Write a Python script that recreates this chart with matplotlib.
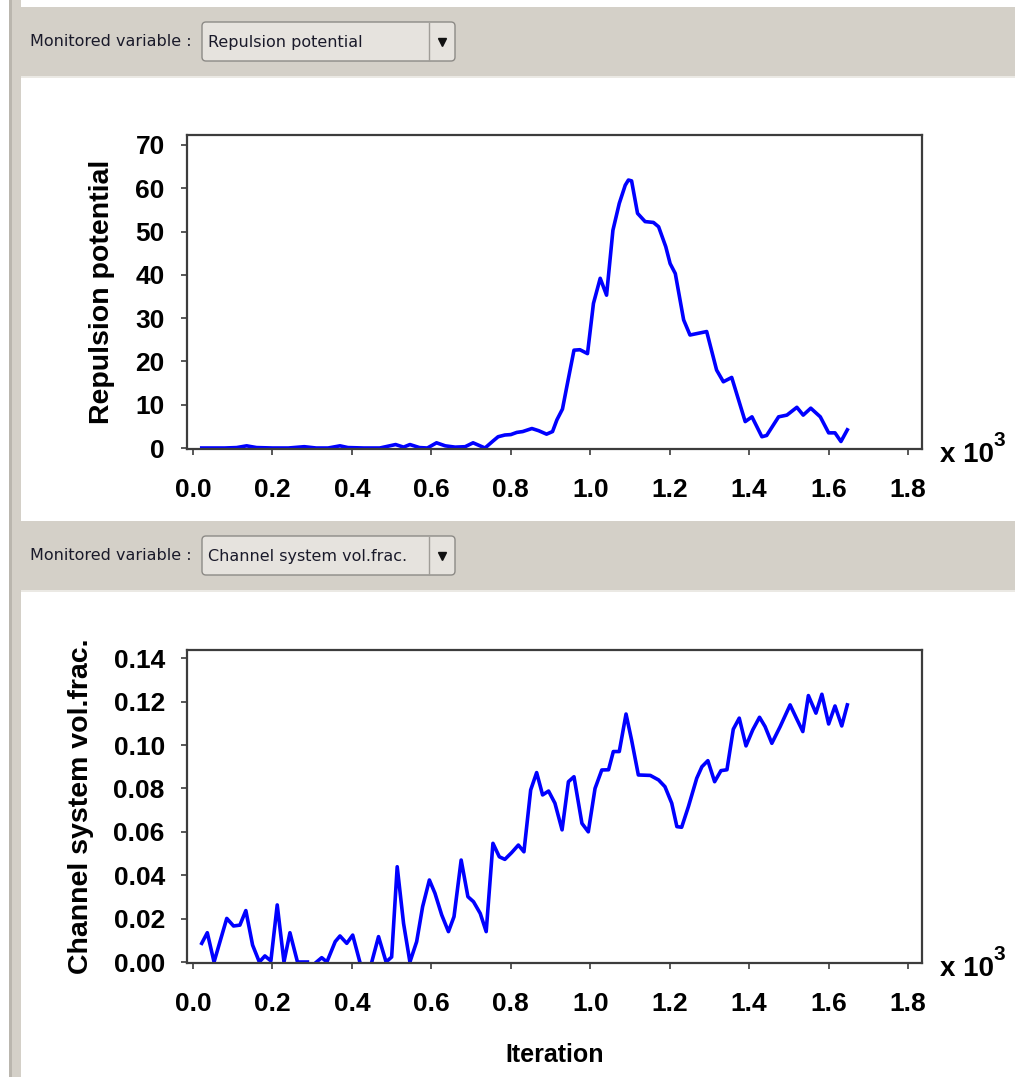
import numpy as np
import matplotlib.pyplot as plt
from matplotlib.patches import Rectangle, FancyBboxPatch

nan = np.nan

# repulsion potential vs iteration (x 10^3)
rep_iter = [0.022, 0.05, 0.08, 0.11, 0.135, 0.16, 0.20, 0.24, 0.28, 0.31,
            0.34, 0.37, 0.39, 0.43, 0.47, 0.51, 0.53, 0.546, 0.57, 0.59,
            0.613, 0.635, 0.66, 0.685, 0.705, 0.72, 0.735, 0.755, 0.768, 0.785,
            0.80, 0.815, 0.83, 0.853, 0.87, 0.89, 0.905, 0.916, 0.93, 0.941,
            0.959, 0.974, 0.993, 1.008, 1.025, 1.041, 1.057, 1.073, 1.088, 1.096,
            1.104, 1.119, 1.138, 1.159, 1.172, 1.19, 1.201, 1.214, 1.235, 1.251,
            1.293, 1.318, 1.335, 1.356, 1.39, 1.407, 1.432, 1.444, 1.474, 1.495,
            1.520, 1.536, 1.555, 1.579, 1.600, 1.616, 1.631, 1.647]
rep_val = [0.0, 0.0, 0.0, 0.1, 0.5, 0.1, 0.0, 0.0, 0.3, 0.0,
           0.0, 0.5, 0.1, 0.0, 0.0, 0.8, 0.2, 0.8, 0.1, 0.0,
           1.2, 0.5, 0.2, 0.3, 1.2, 0.6, 0.0, 1.6, 2.6, 3.0,
           3.1, 3.6, 3.8, 4.5, 4.0, 3.2, 3.8, 6.5, 9.0, 14.2,
           22.6, 22.7, 21.8, 33.4, 39.2, 35.3, 50.3, 56.5, 60.7, 61.9,
           61.7, 54.2, 52.3, 52.1, 51.1, 46.5, 42.6, 40.3, 29.6, 26.1,
           26.9, 18.0, 15.3, 16.3, 6.1, 7.2, 2.6, 2.9, 7.2, 7.6,
           9.4, 7.6, 9.2, 7.2, 3.5, 3.5, 1.5, 4.2]

# channel system volume fraction vs iteration (x 10^3), nan = no value
chan_iter = [0.022, 0.036, 0.053, 0.085, 0.102, 0.118, 0.133, 0.150, 0.167, 0.181,
             0.196, 0.212, 0.229, 0.244, 0.263, 0.288, 0.30, 0.311, 0.324, 0.337,
             0.358, 0.370, 0.387, 0.402, 0.420, 0.435, 0.450, 0.467, 0.486, 0.500,
             0.514, 0.530, 0.546, 0.563, 0.578, 0.595, 0.609, 0.626, 0.643, 0.657,
             0.675, 0.692, 0.706, 0.723, 0.738, 0.755, 0.771, 0.785, 0.802, 0.819,
             0.833, 0.850, 0.865, 0.880, 0.895, 0.911, 0.929, 0.945, 0.959, 0.979,
             0.995, 1.012, 1.029, 1.046, 1.058, 1.073, 1.090, 1.104, 1.121, 1.151,
             1.172, 1.188, 1.205, 1.218, 1.230, 1.247, 1.268, 1.281, 1.296, 1.313,
             1.329, 1.344, 1.360, 1.375, 1.392, 1.409, 1.426, 1.440, 1.457, 1.478,
             1.503, 1.520, 1.535, 1.549, 1.568, 1.583, 1.600, 1.616, 1.633, 1.647]
chan_val = [0.0086, 0.0135, 0.0, 0.0201, 0.0166, 0.0170, 0.0237, 0.0078, 0.0, 0.0028,
            0.0005, 0.0263, 0.0, 0.0135, 0.0, 0.0, nan, 0.0, 0.0020, 0.0,
            0.0094, 0.0120, 0.0086, 0.0124, 0.0, nan, 0.0, 0.0117, 0.0, 0.0023,
            0.0439, 0.0178, 0.0, 0.0094, 0.0255, 0.0378, 0.0317, 0.0217, 0.0140, 0.0209,
            0.0470, 0.0301, 0.0278, 0.0224, 0.0140, 0.0547, 0.0485, 0.0473, 0.0504, 0.0539,
            0.0508, 0.0793, 0.0873, 0.0770, 0.0788, 0.0732, 0.0609, 0.0831, 0.0854, 0.0639,
            0.0600, 0.0800, 0.0885, 0.0886, 0.0970, 0.0970, 0.1143, 0.1023, 0.0862, 0.0860,
            0.0839, 0.0808, 0.0732, 0.0624, 0.0621, 0.0716, 0.0847, 0.0900, 0.0928, 0.0831,
            0.0882, 0.0886, 0.1073, 0.1124, 0.0996, 0.1070, 0.1128, 0.1085, 0.1008, 0.1085,
            0.1185, 0.1119, 0.1062, 0.1228, 0.1147, 0.1234, 0.1097, 0.1180, 0.1088, 0.1185]

xticks = [0.0, 0.2, 0.4, 0.6, 0.8, 1.0, 1.2, 1.4, 1.6, 1.8]
rep_ticks = [0, 10, 20, 30, 40, 50, 60, 70]
chan_ticks = [0.00, 0.02, 0.04, 0.06, 0.08, 0.10, 0.12, 0.14]

W, H = 1015, 1077
panel = '#d4d0c8'
sans = ['Liberation Sans', 'DejaVu Sans']

fig = plt.figure(figsize=(W / 100, H / 100), dpi=100)

# window chrome drawn in pixel coords
bg = fig.add_axes([0, 0, 1, 1])
bg.set_xlim(0, W)
bg.set_ylim(H, 0)
bg.axis('off')
bg.add_patch(Rectangle((9, 0), 3, H, color='#bab6ae', lw=0))
bg.add_patch(Rectangle((12, 0), 9, H, color=panel, lw=0))


def header(y0, name):
    bg.add_patch(Rectangle((12, y0), W - 12, 69, color=panel, lw=0))
    bg.add_patch(Rectangle((21, y0 + 69), W - 21, 2, color='#ebe9e4', lw=0))
    bx = FancyBboxPatch((202, y0 + 15), 253, 39,
                        boxstyle='round,pad=0,rounding_size=4',
                        fc='#e6e3de', ec='#8c8a86', lw=1.0)
    bg.add_patch(bx)
    bg.plot([429, 429], [y0 + 16, y0 + 53], color='#a09d98', lw=1.0)
    bg.plot([442], [y0 + 35], marker='v', ms=6, color='#111111')
    bg.text(30, y0 + 35, 'Monitored variable :', fontsize=11.5,
            family='DejaVu Sans', color='#1a1a2a', va='center', ha='left')
    bg.text(208, y0 + 35, name, fontsize=11.5, family='DejaVu Sans',
            color='#1a1a2a', va='center', ha='left')


header(7, 'Repulsion potential')
header(521, 'Channel system vol.frac.')


def style(ax, yticks, ylabels, ylim):
    ax.set_xlim(-0.0151, 1.835)
    ax.set_ylim(*ylim)
    ax.set_xticks(xticks)
    ax.set_xticklabels(['%.1f' % v for v in xticks])
    ax.set_yticks(yticks)
    ax.set_yticklabels(ylabels)
    for s in ax.spines.values():
        s.set_linewidth(1.6)
        s.set_color('#3c3c3c')
    ax.tick_params(axis='both', direction='out', length=4, width=1.2,
                   color='#3c3c3c')
    ax.tick_params(axis='x', pad=17)
    ax.tick_params(axis='y', pad=12)
    for t in ax.get_xticklabels() + ax.get_yticklabels():
        t.set_fontfamily(sans)
        t.set_fontweight('bold')
        t.set_fontsize(19)


def px_axes(l, t, r, b):
    return fig.add_axes([l / W, 1 - b / H, (r - l) / W, (b - t) / H])


ax1 = px_axes(187, 135, 922, 449)
ax1.plot(rep_iter, rep_val, color='#0000ff', lw=2.6)
style(ax1, rep_ticks, [str(v) for v in rep_ticks], (-0.23, 72.3))

ax2 = px_axes(187, 650, 922, 963)
ax2.plot(chan_iter, chan_val, color='#0000ff', lw=2.6)
style(ax2, chan_ticks, ['%.2f' % v for v in chan_ticks], (-0.00046, 0.1438))

# axis titles and scale notes
fig.text(102 / W, 1 - 292 / H, 'Repulsion potential', rotation=90,
         family=sans, weight='bold', fontsize=20.5, ha='center', va='center')
fig.text(81 / W, 1 - 806 / H, 'Channel system vol.frac.', rotation=90,
         family=sans, weight='bold', fontsize=20.5, ha='center', va='center')
fig.text(555 / W, 1 - 1055 / H, 'Iteration', family=sans, weight='bold',
         fontsize=18, ha='center', va='center')

for base in (462, 976):
    fig.text(940 / W, 1 - base / H, 'x 10', family=sans, weight='bold',
             fontsize=20, ha='left', va='baseline')
    fig.text(994 / W, 1 - (base - 16) / H, '3', family=sans, weight='bold',
             fontsize=15, ha='left', va='baseline')

fig.savefig('out.png', dpi=100)
